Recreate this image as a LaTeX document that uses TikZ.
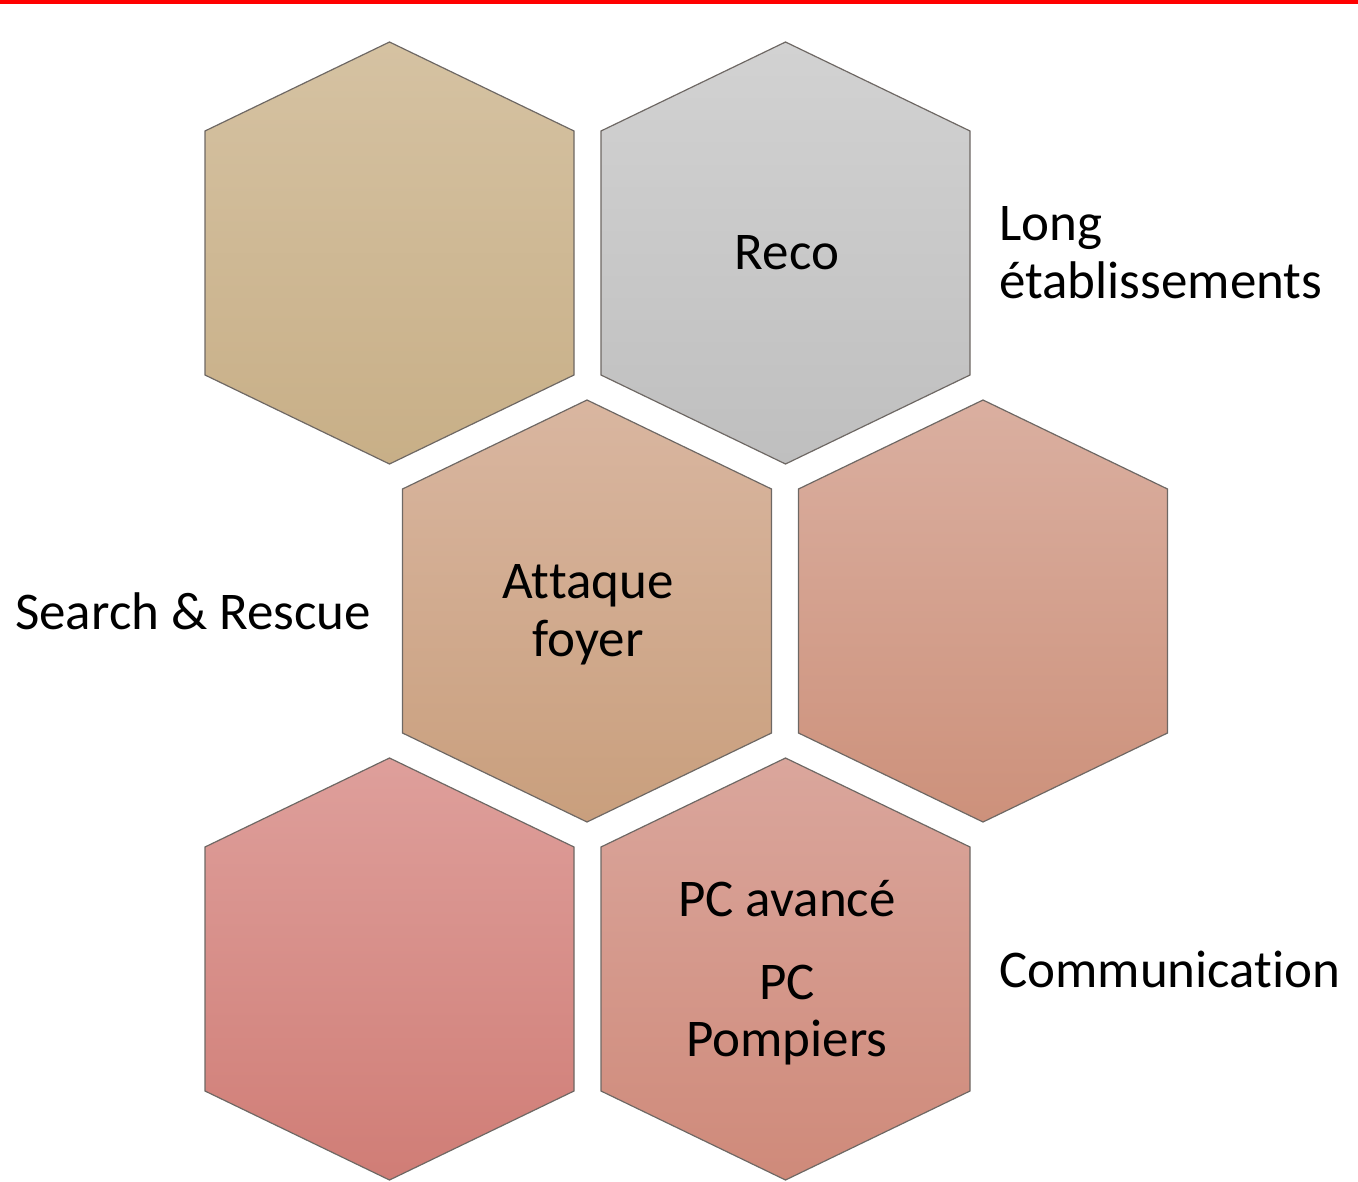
\documentclass[tikz,border=0pt]{standalone}
\usepackage{fontspec}
\setmainfont[Ligatures={NoCommon,NoRequired}]{Carlito}
\definecolor{hAt}{HTML}{D5C2A2}\definecolor{hAb}{HTML}{C8AF87}
\definecolor{hBt}{HTML}{D2D2D2}\definecolor{hBb}{HTML}{BFBFBF}
\definecolor{hCt}{HTML}{D9B6A0}\definecolor{hCb}{HTML}{C99F7D}
\definecolor{hDt}{HTML}{DAAFA0}\definecolor{hDb}{HTML}{CD917B}
\definecolor{hEt}{HTML}{DE9F9B}\definecolor{hEb}{HTML}{D07D76}
\definecolor{hFt}{HTML}{DAA69C}\definecolor{hFb}{HTML}{CF8A7A}
\definecolor{hexline}{HTML}{6E6864}
\newcommand{\hexcell}[4]{%
  \shade[hexstyle, top color=#3, bottom color=#4]
    (#1,#2-211) -- (#1+184.5,#2-122) -- (#1+184.5,#2+122) -- (#1,#2+211)
    -- (#1-184.5,#2+122) -- (#1-184.5,#2-122) -- cycle;}
\begin{document}
\begin{tikzpicture}[x=1pt,y=-1pt,
  hexstyle/.style={draw=hexline, line width=1.2pt, line join=miter},
  lbl/.style={inner sep=0pt, anchor=base, font=\fontsize{53}{57}\selectfont},
  lbll/.style={lbl, anchor=base west}]
\useasboundingbox (0,0) rectangle (1358,1182);
\fill[red] (0,0) rectangle (1358,4);
\hexcell{389.5}{253}{hAt}{hAb}
\hexcell{785.5}{253}{hBt}{hBb}
\hexcell{587}{611}{hCt}{hCb}
\hexcell{983}{611}{hDt}{hDb}
\hexcell{389.5}{969}{hEt}{hEb}
\hexcell{785.5}{969}{hFt}{hFb}
\node[lbl] (reco) at (787,270) {Reco};
\node[lbll] (long1) at (999,241) {Long};
\node[lbll] (long2) at (999,299) {établissements};
\node[lbll] (sr) at (15,629) {Search \& Rescue};
\node[lbl] (att1) at (588,598) {At\kern0pt taque};
\node[lbl] (att2) at (588,656) {foyer};
\node[lbl] (pca) at (787,916) {PC avancé};
\node[lbl] (pc) at (787,999) {PC};
\node[lbl] (pomp) at (787,1056) {Pompiers};
\node[lbll] (comm) at (999,987) {Communicat\kern0pt ion};
\end{tikzpicture}
\end{document}
